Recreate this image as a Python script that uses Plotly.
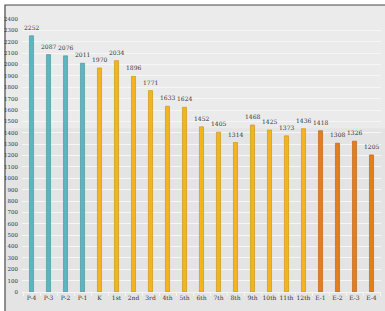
import plotly.graph_objects as go

categories = ["P-4", "P-3", "P-2", "P-1", "K", "1st", "2nd", "3rd", "4th", "5th", "6th",
              "7th", "8th", "9th", "10th", "11th", "12th", "E-1", "E-2", "E-3", "E-4"]
values = [2252, 2087, 2076, 2011, 1970, 2034, 1896, 1771, 1633, 1624, 1452,
          1405, 1314, 1468, 1425, 1373, 1436, 1418, 1308, 1326, 1205]
groups = ["P"] * 4 + ["G"] * 13 + ["E"] * 4
group_colors = {"P": "#5bb6bf", "G": "#f1b51e", "E": "#e57d1b"}
group_lines = {"P": "#3f9199", "G": "#c98f0a", "E": "#b95c0c"}

colors = [group_colors[g] for g in groups]
lines = [group_lines[g] for g in groups]

fig = go.Figure(go.Bar(
    x=categories, y=values,
    marker=dict(color=colors, line=dict(color=lines, width=0.6)),
    cliponaxis=False,
))

for c, v in zip(categories, values):
    fig.add_annotation(x=c, y=v, text=str(v), showarrow=False, yanchor="bottom",
                       yshift=3, font=dict(size=6, color="#333333", family="DejaVu Serif"))

fig.update_layout(
    width=385, height=311,
    margin=dict(l=22, r=4, t=19, b=19),
    paper_bgcolor="white", plot_bgcolor="rgba(0,0,0,0)",
    bargap=0.76, showlegend=False,
    font=dict(family="DejaVu Serif", size=7, color="#333333"),
    shapes=[dict(type="rect", xref="paper", yref="paper",
                 x0=-0.0474, x1=1.2, y0=-0.3, y1=1.0513,
                 fillcolor="#e4e4e4", line=dict(color="#4a4a4a", width=1.2),
                 layer="below"),
            dict(type="rect", xref="paper", yref="paper",
                 x0=-0.044, x1=1.2, y0=0.6, y1=1.048,
                 fillcolor="#ebebeb", line=dict(width=0),
                 layer="below")],
    xaxis=dict(showgrid=False, showline=True, linecolor="#f5f5f5", linewidth=1,
               ticks="outside", tickson="boundaries", ticklen=3, tickcolor="#f5f5f5",
               tickfont=dict(size=6, color="#333333"), tickangle=0),
    yaxis=dict(range=[0, 2400], dtick=100, showgrid=True, gridcolor="#f6f6f6",
               gridwidth=1, zeroline=False, tickfont=dict(size=5.5, color="#333333"),
               ticks="", ticklabelstandoff=3),
)

fig.write_html("out.html", config={"displayModeBar": False},
               post_script="document.body.style.margin='0';document.body.style.overflow='hidden';")
